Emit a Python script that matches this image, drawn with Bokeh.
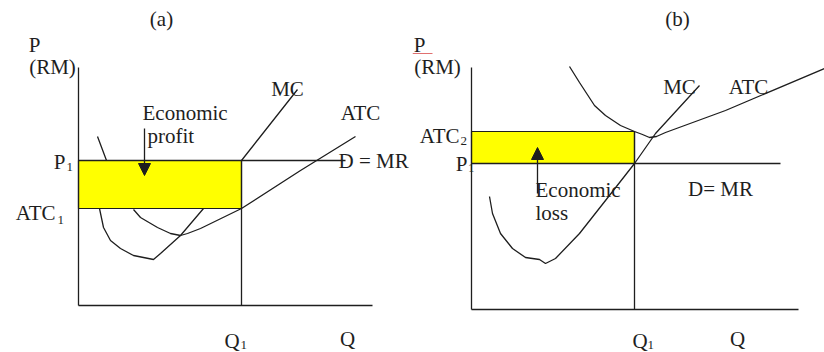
from bokeh.plotting import figure
from bokeh.layouts import row
from bokeh.models import Range1d, Arrow, NormalHead
from bokeh.core.properties import value
from bokeh.embed import file_html
from bokeh.resources import INLINE

FONT = "Liberation Serif"
INK = "#1e1e1e"
YELLOW = "#FFFF00"

# ---------------- Panel (a): economic profit ----------------
a_title = "(a)"
a_q1 = 16.3          # profit-maximising quantity
a_p1 = 14.5          # market price
a_atc1 = 9.7         # ATC at Q1
a_q_max = 29.4       # end of Q axis
a_p_max = 23.8       # top of P axis
a_mr_end = 26.7      # end of D = MR line
a_mc_q = [1.9, 2.8, 2.3, 2.1, 2.5, 3.2, 4.2, 5.5, 6.5, 7.5, 8.2, 10.2, 12.5, 16.3, 21.9]
a_mc_p = [16.9, 14.5, 12.0, 9.7, 7.8, 6.5, 5.7, 5.0, 4.8, 4.6, 5.2, 7.0, 9.7, 14.5, 21.6]
a_atc_q = [5.5, 6.2, 7.9, 9.2, 10.2, 10.9, 12.2, 16.3, 22.2, 27.7]
a_atc_p = [9.6, 8.8, 7.8, 7.2, 7.0, 7.2, 7.7, 9.7, 13.5, 16.9]

# ---------------- Panel (b): economic loss ----------------
b_title = "(b)"
b_q1 = 16.3
b_p1 = 14.6
b_atc2 = 17.8
b_q_max = 32.7
b_p_max = 24.2
b_mr_end = 30.9
b_mc_q = [1.8, 2.1, 2.9, 4.1, 5.4, 6.8, 7.4, 8.4, 10.8, 13.4, 16.3, 18.4, 22.8]
b_mc_p = [11.3, 9.6, 7.6, 6.1, 5.2, 5.0, 4.6, 5.1, 7.6, 10.9, 14.6, 17.6, 22.4]
b_atc_q = [9.8, 10.8, 12.3, 13.4, 14.9, 16.3, 17.1, 17.8, 18.5, 19.4, 25.4, 35.3]
b_atc_p = [24.3, 22.7, 20.4, 19.4, 18.4, 17.8, 17.5, 17.2, 17.3, 17.7, 19.9, 24.1]

FS = 21   # main label size (px)
SUB = 13  # subscript size (px)


def make_panel(x0, x1, y0, y1):
    p = figure(width=412, height=352,
               x_range=Range1d(x0, x1), y_range=Range1d(y0, y1),
               output_backend="svg", toolbar_location=None,
               x_axis_location=None, y_axis_location=None,
               min_border=0, outline_line_color=None,
               background_fill_color="white", border_fill_color="white")
    p.grid.visible = False
    return p


def label(p, x, y, s, size=FS, align="center"):
    p.text(x=[x], y=[y], text=[s], text_font=value(FONT),
           text_font_size=f"{size}px", text_align=align,
           text_baseline="middle", text_color=INK)


def curve(p, xs, ys):
    p.line(xs, ys, line_color=INK, line_width=1.3)


def hline(p, x0, x1, y):
    p.line([x0, x1], [y, y], line_color=INK, line_width=1.3)


def vline(p, x, y0, y1):
    p.line([x, x], [y0, y1], line_color=INK, line_width=1.3)


def arrow(p, x, y0, y1):
    p.add_layout(Arrow(end=NormalHead(size=12, fill_color=INK, line_color=INK),
                       x_start=x, y_start=y0, x_end=x, y_end=y1,
                       line_color=INK, line_width=1.3))


# ---------- (a) ----------
pa = make_panel(-7.8, 33.4, -4.7, 30.5)
curve(pa, a_mc_q, a_mc_p)
curve(pa, a_atc_q, a_atc_p)
pa.quad(left=[0], right=[a_q1], bottom=[a_atc1], top=[a_p1],
        fill_color=YELLOW, line_color=INK, line_width=1.2)
hline(pa, 0, a_mr_end, a_p1)
vline(pa, a_q1, 0, a_p1)
vline(pa, 0, 0, a_p_max)
hline(pa, 0, a_q_max, 0)
arrow(pa, 6.6, 17.7, 13.0)

label(pa, 8.3, 28.7, a_title)
label(pa, -4.4, 26.1, "P")
label(pa, -2.6, 23.9, "(RM)")
label(pa, 6.4, 19.3, "Economic", align="left")
label(pa, 6.9, 17.0, "profit", align="left")
label(pa, 20.9, 21.7, "MC")
label(pa, 28.2, 19.3, "ATC")
label(pa, 26.0, a_p1, "D = MR", align="left")
label(pa, -1.3, a_p1 - 0.1, "P", align="right")
label(pa, -1.2, a_p1 - 0.6, "1", size=SUB, align="left")
label(pa, -2.3, a_atc1 - 0.4, "ATC", align="right")
label(pa, -2.1, a_atc1 - 1.1, "1", size=SUB, align="left")
label(pa, a_q1 - 0.95, -3.5, "Q")
label(pa, a_q1 - 0.1, -3.9, "1", size=SUB, align="left")
label(pa, 26.9, -3.3, "Q")

# ---------- (b) ----------
pb = make_panel(-5.9, 35.3, -4.3, 30.9)
curve(pb, b_mc_q, b_mc_p)
curve(pb, b_atc_q, b_atc_p)
pb.quad(left=[0], right=[b_q1], bottom=[b_p1], top=[b_atc2],
        fill_color=YELLOW, line_color=INK, line_width=1.2)
hline(pb, 0, b_mr_end, b_p1)
vline(pb, b_q1, 0, b_atc2)
vline(pb, 0, 0, b_p_max)
hline(pb, 0, b_q_max, 0)
arrow(pb, 6.6, 11.6, 16.2)

label(pb, 20.6, 29.1, b_title)
label(pb, -5.2, 26.5, "P")
pb.line([-5.9, -3.9], [25.6, 25.6], line_color="#e07070", line_width=1)
label(pb, -3.4, 24.3, "(RM)")
label(pb, 20.8, 22.3, "MC")
label(pb, 27.7, 22.3, "ATC")
label(pb, -1.2, b_atc2 - 0.4, "ATC", align="right")
label(pb, -1.1, b_atc2 - 0.9, "2", size=SUB, align="left")
label(pb, -0.4, b_p1, "P", align="right")
label(pb, -0.35, b_p1 - 0.4, "1", size=SUB, align="left")
label(pb, 6.4, 12.0, "Economic", align="left")
label(pb, 6.4, 9.7, "loss", align="left")
label(pb, 24.9, 12.1, "D= MR")
label(pb, b_q1 + 0.55, -3.1, "Q")
label(pb, b_q1 + 1.3, -3.5, "1", size=SUB, align="left")
label(pb, 26.6, -2.9, "Q")

layout = row(pa, pb)
open("out.html", "w").write(file_html(layout, INLINE))
